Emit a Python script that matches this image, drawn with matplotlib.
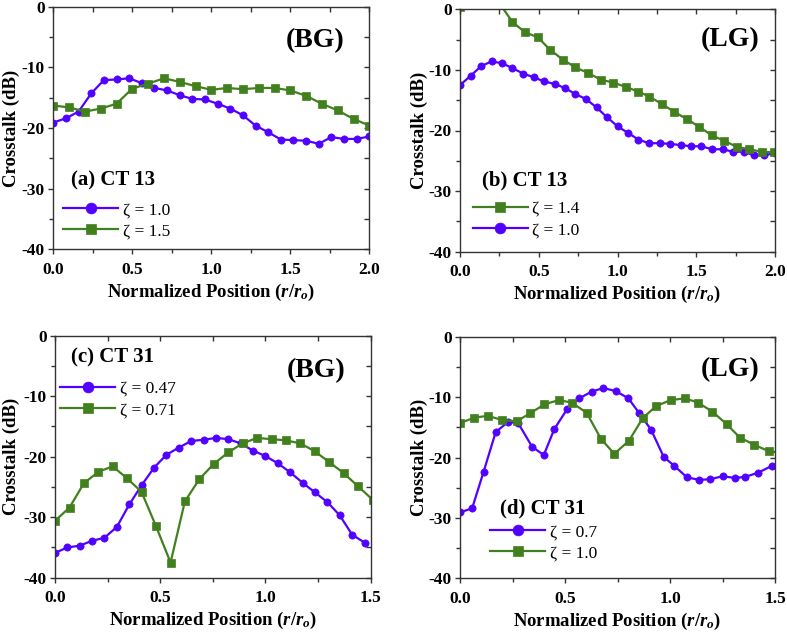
import matplotlib
matplotlib.use('Agg')
import matplotlib.pyplot as plt
from matplotlib.ticker import MultipleLocator

plt.rcParams['font.family'] = ['Liberation Serif', 'DejaVu Serif']
plt.rcParams['mathtext.fontset'] = 'custom'
plt.rcParams['mathtext.rm'] = 'Liberation Serif:bold'
plt.rcParams['mathtext.it'] = 'Liberation Serif:bold:italic'
plt.rcParams['mathtext.bf'] = 'Liberation Serif:bold'

PURPLE = '#5200ff'
GREEN = '#42801f'

# (a) CT 13, BG
a_x1 = [0, 0.08, 0.16, 0.24, 0.32, 0.40, 0.48, 0.56, 0.64, 0.72, 0.80, 0.88, 0.96,
        1.04, 1.12, 1.20, 1.28, 1.36, 1.44, 1.52, 1.60, 1.68, 1.76, 1.84, 1.92, 2.0]
a_y1 = [-19.1, -18.4, -17.3, -14.3, -12.1, -12.0, -11.8, -12.6, -13.4, -13.8, -14.6, -15.2, -15.3,
        -16.0, -16.8, -17.9, -19.6, -20.7, -21.9, -22.0, -22.1, -22.6, -21.5, -21.8, -21.8, -21.4]
a_x2 = [0, 0.1, 0.2, 0.3, 0.4, 0.5, 0.6, 0.7, 0.8, 0.9, 1.0, 1.1, 1.2, 1.3, 1.4,
        1.5, 1.6, 1.7, 1.8, 1.9, 2.0]
a_y2 = [-16.3, -16.6, -17.3, -16.8, -16.0, -13.5, -12.7, -11.8, -12.4, -13.1, -13.7, -13.4,
        -13.6, -13.4, -13.4, -13.8, -14.7, -16.0, -17.1, -18.5, -19.6]

# (b) CT 13, LG
b_x1 = [0, 0.067, 0.133, 0.2, 0.267, 0.333, 0.4, 0.467, 0.533, 0.6, 0.667, 0.733, 0.8,
        0.867, 0.933, 1.0, 1.067, 1.133, 1.2, 1.267, 1.333, 1.4, 1.467, 1.533, 1.6,
        1.667, 1.733, 1.8, 1.867, 1.933, 2.0]
b_y1 = [-12.5, -11.0, -9.4, -8.6, -8.9, -9.7, -10.6, -11.2, -11.9, -12.3, -13.0, -14.0, -14.8,
        -16.2, -17.8, -19.3, -20.4, -21.5, -22.1, -22.1, -22.2, -22.4, -22.6, -22.6, -23.1,
        -23.1, -23.5, -23.5, -24.1, -24.1, -23.7]
b_x2 = [0, 0.093, 0.173, 0.253, 0.333, 0.413, 0.493, 0.573, 0.653, 0.733, 0.813, 0.893,
        0.973, 1.053, 1.133, 1.202, 1.280, 1.359, 1.439, 1.520, 1.598, 1.678, 1.757,
        1.837, 1.915, 1.995]
b_y2 = [0.4, 3.0, 2.6, 0.9, -2.1, -3.8, -4.6, -6.7, -8.3, -9.6, -10.5, -11.6,
        -12.1, -12.8, -13.6, -14.4, -15.6, -16.9, -18.1, -19.4, -20.8, -21.7, -22.7,
        -23.1, -23.5, -23.6]

# (c) CT 31, BG
c_x1 = [0, 0.059, 0.118, 0.176, 0.235, 0.294, 0.353, 0.412, 0.471, 0.529, 0.588, 0.647,
        0.706, 0.765, 0.824, 0.882, 0.941, 1.0, 1.059, 1.118, 1.176, 1.235, 1.294, 1.353,
        1.412, 1.471]
c_y1 = [-35.9, -35.0, -34.7, -33.9, -33.4, -31.6, -27.9, -24.7, -21.8, -19.7, -18.5, -17.4,
        -17.2, -16.9, -17.1, -17.8, -19.0, -19.9, -21.1, -22.6, -24.3, -25.9, -27.5, -29.7,
        -32.9, -34.2]
c_x2 = [0, 0.069, 0.137, 0.206, 0.274, 0.343, 0.411, 0.480, 0.549, 0.617, 0.686, 0.754,
        0.823, 0.891, 0.960, 1.029, 1.097, 1.166, 1.234, 1.303, 1.371, 1.440, 1.509]
c_y2 = [-30.6, -28.4, -24.4, -22.5, -21.6, -23.6, -25.8, -31.5, -37.5, -27.4, -23.7, -21.2,
        -19.3, -17.8, -16.9, -17.1, -17.3, -17.8, -19.1, -20.9, -22.7, -24.9, -27.1]

# (d) CT 31, LG
d_x1 = [0, 0.058, 0.112, 0.170, 0.229, 0.277, 0.343, 0.399, 0.449, 0.510, 0.568, 0.627,
        0.683, 0.741, 0.802, 0.852, 0.910, 0.970, 1.021, 1.081, 1.140, 1.191, 1.251,
        1.311, 1.359, 1.421, 1.484]
d_y1 = [-29.1, -28.4, -22.4, -15.8, -14.1, -14.3, -18.2, -19.6, -15.3, -12.0, -10.2, -9.1,
        -8.5, -9.0, -10.2, -12.6, -15.4, -19.9, -21.4, -23.3, -23.7, -23.6, -23.1,
        -23.4, -23.2, -22.5, -21.4]
d_x2 = [0, 0.068, 0.132, 0.201, 0.270, 0.333, 0.402, 0.470, 0.532, 0.603, 0.671, 0.735,
        0.805, 0.870, 0.933, 1.003, 1.072, 1.132, 1.202, 1.270, 1.333, 1.401, 1.473, 1.54]
d_y2 = [-14.3, -13.4, -13.1, -13.8, -14.0, -12.7, -11.2, -10.5, -10.9, -12.6, -16.9, -19.4,
        -17.2, -13.5, -11.5, -10.5, -10.2, -10.9, -12.4, -14.5, -16.7, -17.9, -19.0, -19.2]

W, H = 787, 636
fig = plt.figure(figsize=(W / 100, H / 100), dpi=100)


def make_axes(l, r, t, b):
    return fig.add_axes([l / W, 1 - b / H, (r - l) / W, (b - t) / H])


def style(ax, xmax, ylab_x):
    ax.set_xlim(0, xmax)
    ax.set_ylim(-40, 0)
    ax.xaxis.set_major_locator(MultipleLocator(0.5))
    ax.xaxis.set_minor_locator(MultipleLocator(0.25))
    ax.yaxis.set_major_locator(MultipleLocator(10))
    ax.yaxis.set_minor_locator(MultipleLocator(5))
    ax.xaxis.set_major_formatter(plt.FormatStrFormatter('%.1f'))
    ax.yaxis.set_major_formatter(plt.FuncFormatter(lambda v, p: '%d' % v))
    for s in ax.spines.values():
        s.set_linewidth(1.0)
        s.set_color('#333333')
    ax.tick_params(which='both', direction='out', top=False, right=False, color='#333333', width=1.0)
    ax.tick_params(which='major', length=3.5)
    ax.tick_params(which='minor', length=3.0)
    ax.tick_params(axis='x', pad=5.5, labelsize=12.5)
    ax.tick_params(axis='y', pad=2.5, labelsize=12.5)
    for lab in ax.get_xticklabels() + ax.get_yticklabels():
        lab.set_fontweight('bold')
    # mirrored inward ticks on top/right
    sx = ax.secondary_xaxis('top')
    sx.xaxis.set_major_locator(MultipleLocator(0.25))
    sx.tick_params(direction='in', length=3.5, color='#333333', width=1.0, labeltop=False)
    sy = ax.secondary_yaxis('right')
    sy.yaxis.set_major_locator(MultipleLocator(5))
    sy.tick_params(direction='in', length=3.5, color='#333333', width=1.0, labelright=False)
    for s in list(sx.spines.values()) + list(sy.spines.values()):
        s.set_visible(False)
    ax.set_xlabel(r'Normalized Position ($r/r_o$)', fontsize=13.5, fontweight='bold', va='center')
    ax.set_ylabel('Crosstalk (dB)', fontsize=13.5, fontweight='bold', va='center')
    ax.xaxis.set_label_coords(0.5, -0.178)
    ax.yaxis.set_label_coords(ylab_x, 0.5)


def series(ax, x, y, color, marker, label):
    ax.plot(x, y, color=color, marker=marker, markersize=5.2, linewidth=1.6,
            markeredgewidth=0.5, label=label)


def legend(ax, order, anchor):
    h, l = ax.get_legend_handles_labels()
    leg = ax.legend([h[i] for i in order], [l[i] for i in order], loc='upper left',
                    bbox_to_anchor=anchor, frameon=False, fontsize=12.5,
                    handlelength=3.2, handletextpad=0.25, labelspacing=0.3,
                    borderaxespad=0, borderpad=0, markerscale=1.5)
    return leg


axa = make_axes(53.3, 369.3, 6.7, 249.3)
series(axa, a_x1, a_y1, PURPLE, 'o', 'ζ = 1.0')
series(axa, a_x2, a_y2, GREEN, 's', 'ζ = 1.5')
style(axa, 2.0, -0.133)
axa.text(0.923, 0.861, '(BG)', transform=axa.transAxes, ha='right', va='center',
         fontsize=20, fontweight='bold')
axa.text(0.055, 0.283, '(a) CT 13', transform=axa.transAxes, ha='left', va='center',
         fontsize=15, fontweight='bold')
legend(axa, [0, 1], (0.03, 0.195))

axb = make_axes(460, 775, 9.3, 251.7)
series(axb, b_x1, b_y1, PURPLE, 'o', 'ζ = 1.0')
series(axb, b_x2, b_y2, GREEN, 's', 'ζ = 1.4')
style(axb, 2.0, -0.13)
axb.text(0.952, 0.875, '(LG)', transform=axb.transAxes, ha='right', va='center',
         fontsize=20, fontweight='bold')
axb.text(0.069, 0.292, '(b) CT 13', transform=axb.transAxes, ha='left', va='center',
         fontsize=15, fontweight='bold')
legend(axb, [1, 0], (0.04, 0.21))

axc = make_axes(55, 370.7, 335.7, 577.7)
series(axc, c_x1, c_y1, PURPLE, 'o', 'ζ = 0.47')
series(axc, c_x2, c_y2, GREEN, 's', 'ζ = 0.71')
style(axc, 1.5, -0.138)
axc.text(0.919, 0.855, '(BG)', transform=axc.transAxes, ha='right', va='center',
         fontsize=20, fontweight='bold')
axc.text(0.05, 0.911, '(c) CT 31', transform=axc.transAxes, ha='left', va='center',
         fontsize=15, fontweight='bold')
legend(axc, [0, 1], (0.015, 0.815))

axd = make_axes(460, 775, 336.7, 578.3)
series(axd, d_x1, d_y1, PURPLE, 'o', 'ζ = 0.7')
series(axd, d_x2, d_y2, GREEN, 's', 'ζ = 1.0')
style(axd, 1.5, -0.13)
axd.text(0.952, 0.865, '(LG)', transform=axd.transAxes, ha='right', va='center',
         fontsize=20, fontweight='bold')
axd.text(0.127, 0.29, '(d) CT 31', transform=axd.transAxes, ha='left', va='center',
         fontsize=15, fontweight='bold')
legend(axd, [0, 1], (0.095, 0.225))

fig.savefig('out.png', dpi=100)
